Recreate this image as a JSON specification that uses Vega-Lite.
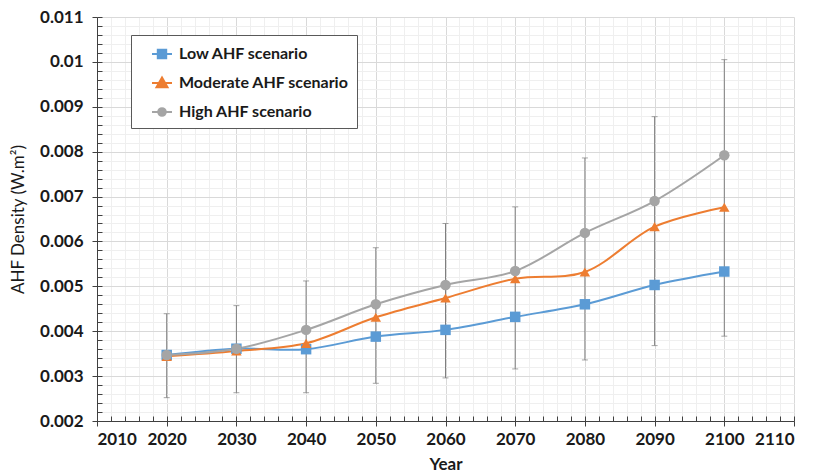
{
  "$schema": "https://vega.github.io/schema/vega-lite/v6.json",
  "width": 697,
  "height": 404,
  "autosize": "none",
  "padding": {"left": 97, "top": 17, "right": 20, "bottom": 54},
  "background": "white",
  "config": {
    "view": {"stroke": null},
    "font": "Lato",
    "axis": {"labelFont": "Lato", "titleFont": "Lato", "labelFontWeight": "bold", "titleFontWeight": "bold", "labelFontSize": 17, "titleFontSize": 17, "labelColor": "#1a1a1a", "titleColor": "#1a1a1a"}
  },
  "datasets": {
    "series": [
      {"year": 2020, "scenario": "Low AHF scenario", "value": 0.00347},
      {"year": 2030, "scenario": "Low AHF scenario", "value": 0.00361},
      {"year": 2040, "scenario": "Low AHF scenario", "value": 0.0036},
      {"year": 2050, "scenario": "Low AHF scenario", "value": 0.00388},
      {"year": 2060, "scenario": "Low AHF scenario", "value": 0.00403},
      {"year": 2070, "scenario": "Low AHF scenario", "value": 0.00432},
      {"year": 2080, "scenario": "Low AHF scenario", "value": 0.0046},
      {"year": 2090, "scenario": "Low AHF scenario", "value": 0.00503},
      {"year": 2100, "scenario": "Low AHF scenario", "value": 0.00533},
      {"year": 2020, "scenario": "Moderate AHF scenario", "value": 0.00344},
      {"year": 2030, "scenario": "Moderate AHF scenario", "value": 0.00356},
      {"year": 2040, "scenario": "Moderate AHF scenario", "value": 0.00373},
      {"year": 2050, "scenario": "Moderate AHF scenario", "value": 0.00431},
      {"year": 2060, "scenario": "Moderate AHF scenario", "value": 0.00474},
      {"year": 2070, "scenario": "Moderate AHF scenario", "value": 0.00517},
      {"year": 2080, "scenario": "Moderate AHF scenario", "value": 0.00532},
      {"year": 2090, "scenario": "Moderate AHF scenario", "value": 0.00633},
      {"year": 2100, "scenario": "Moderate AHF scenario", "value": 0.00676},
      {"year": 2020, "scenario": "High AHF scenario", "value": 0.00347},
      {"year": 2030, "scenario": "High AHF scenario", "value": 0.00361},
      {"year": 2040, "scenario": "High AHF scenario", "value": 0.00403},
      {"year": 2050, "scenario": "High AHF scenario", "value": 0.0046},
      {"year": 2060, "scenario": "High AHF scenario", "value": 0.00503},
      {"year": 2070, "scenario": "High AHF scenario", "value": 0.00534},
      {"year": 2080, "scenario": "High AHF scenario", "value": 0.00619},
      {"year": 2090, "scenario": "High AHF scenario", "value": 0.0069},
      {"year": 2100, "scenario": "High AHF scenario", "value": 0.00792}
    ],
    "errors": [
      {"year": 2020, "lo": 0.00252, "hi": 0.00439},
      {"year": 2030, "lo": 0.00263, "hi": 0.00457},
      {"year": 2040, "lo": 0.00263, "hi": 0.00512},
      {"year": 2050, "lo": 0.00284, "hi": 0.00586},
      {"year": 2060, "lo": 0.00296, "hi": 0.0064},
      {"year": 2070, "lo": 0.00316, "hi": 0.00677},
      {"year": 2080, "lo": 0.00336, "hi": 0.00786},
      {"year": 2090, "lo": 0.00368, "hi": 0.00878},
      {"year": 2100, "lo": 0.00389, "hi": 0.01005}
    ]
  },
  "resolve": {"axis": {"x": "independent", "y": "independent"}},
  "layer": [
    {
      "data": {"name": "errors"},
      "mark": {"type": "rule", "color": "#7f7f7f", "strokeWidth": 1},
      "encoding": {
        "x": {"field": "year", "type": "quantitative", "scale": {"domain": [2010, 2110], "nice": false, "zero": false},
          "axis": {"orient": "bottom", "values": [2010,2012,2014,2016,2018,2020,2022,2024,2026,2028,2030,2032,2034,2036,2038,2040,2042,2044,2046,2048,2050,2052,2054,2056,2058,2060,2062,2064,2066,2068,2070,2072,2074,2076,2078,2080,2082,2084,2086,2088,2090,2092,2094,2096,2098,2100,2102,2104,2106,2108,2110],
            "grid": true, "gridColor": "#efefef", "gridWidth": 1, "labels": false, "domain": false, "ticks": true, "tickSize": -5, "tickColor": "#404040", "title": null}},
        "y": {"field": "lo", "type": "quantitative", "scale": {"domain": [0.002, 0.011], "nice": false, "zero": false},
          "axis": {"orient": "left", "values": [0.002,0.0022,0.0024,0.0026,0.0028,0.003,0.0032,0.0034,0.0036,0.0038,0.004,0.0042,0.0044,0.0046,0.0048,0.005,0.0052,0.0054,0.0056,0.0058,0.006,0.0062,0.0064,0.0066,0.0068,0.007,0.0072,0.0074,0.0076,0.0078,0.008,0.0082,0.0084,0.0086,0.0088,0.009,0.0092,0.0094,0.0096,0.0098,0.01,0.0102,0.0104,0.0106,0.0108,0.011],
            "grid": true, "gridColor": "#efefef", "gridWidth": 1, "labels": false, "domain": false, "ticks": true, "tickSize": -5, "tickColor": "#404040", "title": null}},
        "y2": {"field": "hi"}
      }
    },
    {
      "data": {"name": "errors"},
      "mark": {"type": "tick", "orient": "horizontal", "color": "#7f7f7f", "size": 6, "thickness": 1},
      "encoding": {
        "x": {"field": "year", "type": "quantitative", "axis": null},
        "y": {"field": "lo", "type": "quantitative", "axis": null}
      }
    },
    {
      "data": {"name": "errors"},
      "mark": {"type": "tick", "orient": "horizontal", "color": "#7f7f7f", "size": 6, "thickness": 1},
      "encoding": {
        "x": {"field": "year", "type": "quantitative", "axis": null},
        "y": {"field": "hi", "type": "quantitative", "axis": null}
      }
    },
    {
      "data": {"name": "series"},
      "mark": {"type": "line", "interpolate": "catmull-rom", "strokeWidth": 2},
      "encoding": {
        "x": {"field": "year", "type": "quantitative",
          "axis": {"orient": "bottom", "values": [2010,2020,2030,2040,2050,2060,2070,2080,2090,2100,2110], "format": "d", "grid": true, "gridColor": "#d9d9d9", "domain": true, "domainColor": "#404040", "tickColor": "#404040", "tickSize": 5, "labelPadding": 5, "title": "Year", "titlePadding": 9}},
        "y": {"field": "value", "type": "quantitative",
          "axis": {"orient": "left", "values": [0.002,0.003,0.004,0.005,0.006,0.007,0.008,0.009,0.01,0.011], "format": ".2~g", "grid": true, "gridColor": "#d9d9d9", "domain": true, "domainColor": "#404040", "tickColor": "#404040", "tickSize": 5, "labelPadding": 9, "title": "AHF Density (W.m²)", "titleFontWeight": "normal", "titleFontSize": 17, "titlePadding": 12}},
        "color": {"field": "scenario", "type": "nominal",
          "scale": {"domain": ["Low AHF scenario", "Moderate AHF scenario", "High AHF scenario"], "range": ["#5B9BD5", "#ED7D31", "#A5A5A5"]},
          "legend": {"title": null, "orient": "none", "legendX": 34, "legendY": 18, "fillColor": "white", "strokeColor": "#595959", "padding": 8, "rowPadding": 9, "symbolOffset": 12, "symbolSize": 400, "labelOffset": 6, "labelLimit": 400, "labelFont": "Lato", "labelFontSize": 16, "labelFontWeight": "bold", "labelColor": "#1a1a1a",
            "encoding": {"symbols": {
              "shape": {"value": {"expr": "datum.value === 'Low AHF scenario' ? 'M-1,0H1M-0.42,-0.42H0.42V0.42H-0.42Z' : datum.value === 'Moderate AHF scenario' ? 'M-1,0H1M0,-0.55L0.55,0.42H-0.55Z' : 'M-1,0H1M-0.38,0A0.38,0.38,0,1,0,0.38,0A0.38,0.38,0,1,0,-0.38,0Z'"}},
              "stroke": {"value": {"expr": "datum.value === 'Low AHF scenario' ? '#5B9BD5' : datum.value === 'Moderate AHF scenario' ? '#ED7D31' : '#A5A5A5'"}},
              "fill": {"value": {"expr": "datum.value === 'Low AHF scenario' ? '#5B9BD5' : datum.value === 'Moderate AHF scenario' ? '#ED7D31' : '#A5A5A5'"}},
              "strokeWidth": {"value": 2},
              "opacity": {"value": 1}
            }}}
        }
      }
    },
    {
      "data": {"name": "series"},
      "mark": {"type": "point", "filled": true, "opacity": 1, "size": 110},
      "encoding": {
        "x": {"field": "year", "type": "quantitative", "axis": null},
        "y": {"field": "value", "type": "quantitative", "axis": null},
        "color": {"field": "scenario", "type": "nominal", "legend": null},
        "shape": {"field": "scenario", "type": "nominal", "legend": null,
          "scale": {"domain": ["High AHF scenario", "Low AHF scenario", "Moderate AHF scenario"], "range": ["circle", "square", "triangle-up"]}}
      }
    }
  ]
}
